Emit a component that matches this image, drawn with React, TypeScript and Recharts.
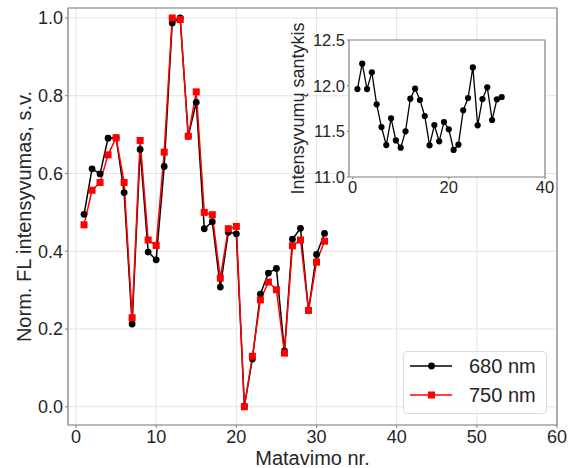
import React from 'react';
import { LineChart, Line, XAxis, YAxis, CartesianGrid, ReferenceArea, Label } from 'recharts';

// ---- data ----
const measurementNr = [1, 2, 3, 4, 5, 6, 7, 8, 9, 10, 11, 12, 13, 14, 15, 16, 17, 18, 19, 20, 21, 22, 23, 24, 25, 26, 27, 28, 29, 30, 31];
const intensity680 = [0.495, 0.612, 0.599, 0.691, 0.692, 0.551, 0.213, 0.662, 0.398, 0.378, 0.618, 0.987, 1.0, 0.696, 0.783, 0.458, 0.476, 0.308, 0.449, 0.445, 0.002, 0.123, 0.29, 0.344, 0.356, 0.144, 0.431, 0.459, 0.248, 0.392, 0.446];
const intensity750 = [0.468, 0.557, 0.577, 0.648, 0.692, 0.577, 0.229, 0.685, 0.429, 0.415, 0.655, 1.0, 0.996, 0.696, 0.81, 0.5, 0.494, 0.331, 0.458, 0.464, 0.0, 0.13, 0.275, 0.321, 0.301, 0.138, 0.414, 0.429, 0.248, 0.372, 0.426];
const intensityRatio = [11.963, 12.241, 11.963, 12.146, 11.796, 11.547, 11.35, 11.642, 11.401, 11.321, 11.5, 11.858, 11.967, 11.843, 11.668, 11.347, 11.569, 11.391, 11.602, 11.522, 11.296, 11.354, 11.73, 11.865, 12.2, 11.566, 11.854, 11.982, 11.624, 11.85, 11.876];
const seriesNames = ['680 nm', '750 nm'];
const mainXTicks = [0, 10, 20, 30, 40, 50, 60];
const mainYTicks = [0, 0.2, 0.4, 0.6, 0.8, 1.0];
const insetXTicks = [0, 20, 40];
const insetYTicks = [11.0, 11.5, 12.0, 12.5];
const mainXLabel = 'Matavimo nr.';
const mainYLabel = 'Norm. FL intensyvumas, s.v.';
const insetYLabel = 'Intensyvumų santykis';

const mainData = measurementNr.map((n, i) => ({ nr: n, a680: intensity680[i], a750: intensity750[i] }));
const insetData = measurementNr.map((n, i) => ({ nr: n, ratio: intensityRatio[i] }));

// ---- style ----
const FONT = '"Liberation Sans", Arial, sans-serif';
const TEXT = '#262626';
const FRAME = '#808080';
const GRID = '#e3e3e3';
const MAIN_X_DOMAIN = [-1, 60];
const MAIN_Y_DOMAIN = [-0.0468, 1.0257];
const INSET_X_DOMAIN = [-0.75, 40];
const INSET_Y_DOMAIN = [11.0, 12.5];

const BlackDot = (props: any) => {
  const { cx, cy, index } = props;
  if (cx == null || cy == null) return <g key={`bd-${index}`} />;
  return <circle key={`bd-${index}`} cx={cx} cy={cy} r={3.4} fill="#000000" />;
};
const SmallBlackDot = (props: any) => {
  const { cx, cy, index } = props;
  if (cx == null || cy == null) return <g key={`sd-${index}`} />;
  return <circle key={`sd-${index}`} cx={cx} cy={cy} r={3.1} fill="#000000" />;
};
const RedSquare = (props: any) => {
  const { cx, cy, index } = props;
  if (cx == null || cy == null) return <g key={`rs-${index}`} />;
  return <rect key={`rs-${index}`} x={cx - 3.5} y={cy - 3.5} width={7} height={7} fill="#ff0000" />;
};

const MainYLabelContent = (props: any) => {
  const vb = props.viewBox || { x: 0, y: 8, width: 68, height: 417 };
  const cx = vb.x + 31;
  const cy = vb.y + vb.height / 2;
  return (
    <text x={cx} y={cy} transform={`rotate(-90 ${cx} ${cy})`} textAnchor="middle" fontSize={20} fill={TEXT} fontFamily={FONT}>
      {mainYLabel}
    </text>
  );
};

const MainXLabelContent = (props: any) => {
  const vb = props.viewBox || { x: 68, y: 425, width: 489, height: 43 };
  const cx = vb.x + vb.width / 2;
  const cy = vb.y + 40;
  return (
    <text x={cx} y={cy} textAnchor="middle" fontSize={20} fill={TEXT} fontFamily={FONT}>
      {mainXLabel}
    </text>
  );
};

const InsetYLabelContent = (props: any) => {
  const vb = props.viewBox || { x: 0, y: 20, width: 79, height: 137 };
  const cx = vb.x + 34;
  const cy = vb.y + vb.height / 2;
  return (
    <text x={cx} y={cy} transform={`rotate(-90 ${cx} ${cy})`} textAnchor="middle" fontSize={18} fill={TEXT} fontFamily={FONT}>
      {insetYLabel}
    </text>
  );
};

const LegendBox = () => (
  <div
    style={{
      position: 'absolute',
      left: 403,
      top: 351,
      boxSizing: 'border-box',
      width: 144,
      height: 63,
      border: '1px solid #dcdcdc',
      borderRadius: 4,
      background: 'rgba(255,255,255,0.85)',
    }}
  >
    <svg width={142} height={61} style={{ position: 'absolute', left: 0, top: 0 }}>
      <line x1={6} y1={14} x2={48} y2={14} stroke="#000000" strokeWidth={1.5} />
      <circle cx={27.5} cy={14} r={3.4} fill="#000000" />
      <text x={65} y={21} fontSize={20} fill={TEXT} fontFamily={FONT}>{seriesNames[0]}</text>
      <line x1={6} y1={43} x2={48} y2={43} stroke="#ff0000" strokeWidth={1.5} />
      <rect x={24} y={39.5} width={7} height={7} fill="#ff0000" />
      <text x={65} y={50} fontSize={20} fill={TEXT} fontFamily={FONT}>{seriesNames[1]}</text>
    </svg>
  </div>
);

const tickStyle = { fontSize: 18, fill: TEXT, fontFamily: FONT };
const insetTickStyle = { fontSize: 16.5, fill: TEXT, fontFamily: FONT };

export default function App() {
  return (
    <div style={{ position: 'absolute', left: 0, top: 0, width: 577, height: 468, background: '#ffffff' }}>
      <div style={{ position: 'absolute', left: 0, top: 0 }}>
        <LineChart width={577} height={468} data={mainData} margin={{ top: 8, right: 20, bottom: 0, left: 0 }}>
          <CartesianGrid stroke={GRID} strokeWidth={1} />
          <XAxis
            dataKey="nr"
            type="number"
            domain={MAIN_X_DOMAIN}
            ticks={mainXTicks}
            allowDataOverflow
            height={43}
            axisLine={false}
            tickLine={{ stroke: FRAME }}
            tickSize={3}
            tickMargin={2}
            tick={tickStyle}
            interval={0}
          >
            <Label content={MainXLabelContent} />
          </XAxis>
          <YAxis
            type="number"
            domain={MAIN_Y_DOMAIN}
            ticks={mainYTicks}
            allowDataOverflow
            width={68}
            axisLine={false}
            tickLine={{ stroke: FRAME }}
            tickSize={3}
            tickMargin={2}
            tick={tickStyle}
            interval={0}
            tickFormatter={(v: number) => v.toFixed(1)}
          >
            <Label content={MainYLabelContent} />
          </YAxis>
          <ReferenceArea
            x1={MAIN_X_DOMAIN[0]}
            x2={MAIN_X_DOMAIN[1]}
            y1={MAIN_Y_DOMAIN[0]}
            y2={MAIN_Y_DOMAIN[1]}
            fill="none"
            fillOpacity={0}
            stroke={FRAME}
            strokeWidth={1.2}
            ifOverflow="visible"
          />
          <Line
            dataKey="a680"
            name={seriesNames[0]}
            stroke="#000000"
            strokeWidth={1.5}
            dot={BlackDot}
            activeDot={false}
            isAnimationActive={false}
          />
          <Line
            dataKey="a750"
            name={seriesNames[1]}
            stroke="#ff0000"
            strokeWidth={1.5}
            dot={RedSquare}
            activeDot={false}
            isAnimationActive={false}
          />
        </LineChart>
      </div>
      <LegendBox />
      <div style={{ position: 'absolute', left: 270, top: 20 }}>
        <LineChart width={300} height={185} data={insetData} margin={{ top: 20, right: 25, bottom: 0, left: 0 }}>
          <XAxis
            dataKey="nr"
            type="number"
            domain={INSET_X_DOMAIN}
            ticks={insetXTicks}
            allowDataOverflow
            height={28}
            axisLine={false}
            tickLine={{ stroke: FRAME }}
            tickSize={2}
            tickMargin={2}
            tick={insetTickStyle}
            interval={0}
          />
          <YAxis
            type="number"
            domain={INSET_Y_DOMAIN}
            ticks={insetYTicks}
            allowDataOverflow
            width={79}
            axisLine={false}
            tickLine={{ stroke: FRAME }}
            tickSize={2}
            tickMargin={2}
            tick={insetTickStyle}
            interval={0}
            tickFormatter={(v: number) => v.toFixed(1)}
          >
            <Label content={InsetYLabelContent} />
          </YAxis>
          <ReferenceArea
            x1={INSET_X_DOMAIN[0]}
            x2={INSET_X_DOMAIN[1]}
            y1={INSET_Y_DOMAIN[0]}
            y2={INSET_Y_DOMAIN[1]}
            fill="#ffffff"
            fillOpacity={1}
            stroke={FRAME}
            strokeWidth={1.2}
            ifOverflow="visible"
          />
          <Line
            dataKey="ratio"
            stroke="#000000"
            strokeWidth={1.3}
            dot={SmallBlackDot}
            activeDot={false}
            isAnimationActive={false}
          />
        </LineChart>
      </div>
    </div>
  );
}
